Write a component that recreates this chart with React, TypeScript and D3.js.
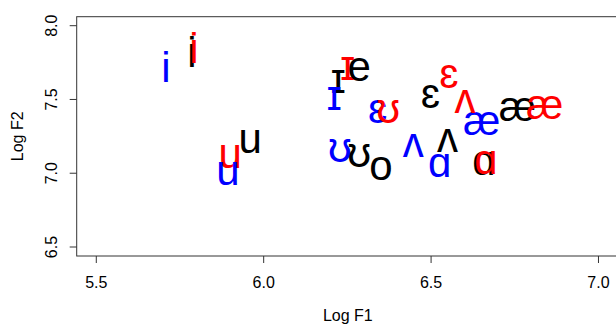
import React from 'react';
import * as d3 from 'd3';

const vowels = ['i', 'ɪ', 'e', 'ɛ', 'æ', 'ɑ', 'ʌ', 'o', 'ʊ', 'u'];
const blackF1 = [5.786, 6.223, 6.285, 6.498, 6.758, 6.658, 6.549, 6.35, 6.285, 5.96];
const blackF2 = [7.797, 7.617, 7.696, 7.515, 7.431, 7.06, 7.221, 7.026, 7.114, 7.214];
const redF1 = [5.792, 6.251, null, 6.553, 6.839, 6.664, 6.601, null, 6.372, 5.9];
const redF2 = [7.824, 7.703, null, 7.65, 7.44, 7.07, 7.481, null, 7.413, 7.108];
const blueF1 = [5.708, 6.211, null, 6.34, 6.651, 6.526, 6.447, null, 6.228, 5.893];
const blueF2 = [7.691, 7.503, null, 7.413, 7.334, 7.051, 7.187, null, 7.153, 6.995];
const xTicks = [5.5, 6.0, 6.5, 7.0];
const yTicks = [6.5, 7.0, 7.5, 8.0];
const xLim = [5.4415, 7.0613];
const yLim = [6.439, 8.061];

const W = 616;
const H = 325;
const plot = { left: 76.7, right: 619, top: 16.7, bottom: 256 };
const font = '"Liberation Sans", Arial, "DejaVu Sans", sans-serif';

const series = [
  { color: '#000000', f1: blackF1, f2: blackF2 },
  { color: '#ff0000', f1: redF1, f2: redF2 },
  { color: '#0000ff', f1: blueF1, f2: blueF2 },
];

export default function App() {
  const x = d3.scaleLinear().domain(xLim).range([plot.left, plot.right]);
  const y = d3.scaleLinear().domain(yLim).range([plot.bottom, plot.top]);
  const axisColor = '#333';

  const marks: any[] = [];
  vowels.forEach((v, i) => {
    series.forEach((s, si) => {
      const a = s.f1[i];
      const b = s.f2[i];
      if (a == null || b == null) return;
      marks.push(
        <text
          key={`${i}-${si}`}
          x={x(a)}
          y={y(b)}
          dy="0.26em"
          textAnchor="middle"
          fontSize={42}
          fill={s.color}
          fontFamily={font}
        >
          {v}
        </text>
      );
    });
  });

  return (
    <div style={{ position: 'absolute', left: 0, top: 0 }}>
      <svg width={W} height={H} style={{ display: 'block', background: '#fff' }}>
        <rect x={0} y={0} width={W} height={H} fill="#fff" />
        {marks}
        <rect
          x={plot.left}
          y={plot.top}
          width={plot.right - plot.left}
          height={plot.bottom - plot.top}
          fill="none"
          stroke={axisColor}
          strokeWidth={1}
        />
        {xTicks.map((t) => (
          <g key={`xt${t}`}>
            <line x1={x(t)} x2={x(t)} y1={plot.bottom} y2={plot.bottom + 7} stroke={axisColor} />
            <text x={x(t)} y={287.5} textAnchor="middle" fontSize={16} fontFamily={font} fill="#000">
              {t.toFixed(1)}
            </text>
          </g>
        ))}
        {yTicks.map((t) => (
          <g key={`yt${t}`}>
            <line x1={plot.left - 7} x2={plot.left} y1={y(t)} y2={y(t)} stroke={axisColor} />
            <text
              transform={`translate(57,${y(t)}) rotate(-90)`}
              textAnchor="middle"
              fontSize={16}
              fontFamily={font}
              fill="#000"
            >
              {t.toFixed(1)}
            </text>
          </g>
        ))}
        <text
          x={(plot.left + plot.right) / 2}
          y={321}
          textAnchor="middle"
          fontSize={16}
          fontFamily={font}
          fill="#000"
        >
          Log F1
        </text>
        <text
          transform={`translate(23,${(plot.top + plot.bottom) / 2}) rotate(-90)`}
          textAnchor="middle"
          fontSize={16}
          fontFamily={font}
          fill="#000"
        >
          Log F2
        </text>
      </svg>
    </div>
  );
}
